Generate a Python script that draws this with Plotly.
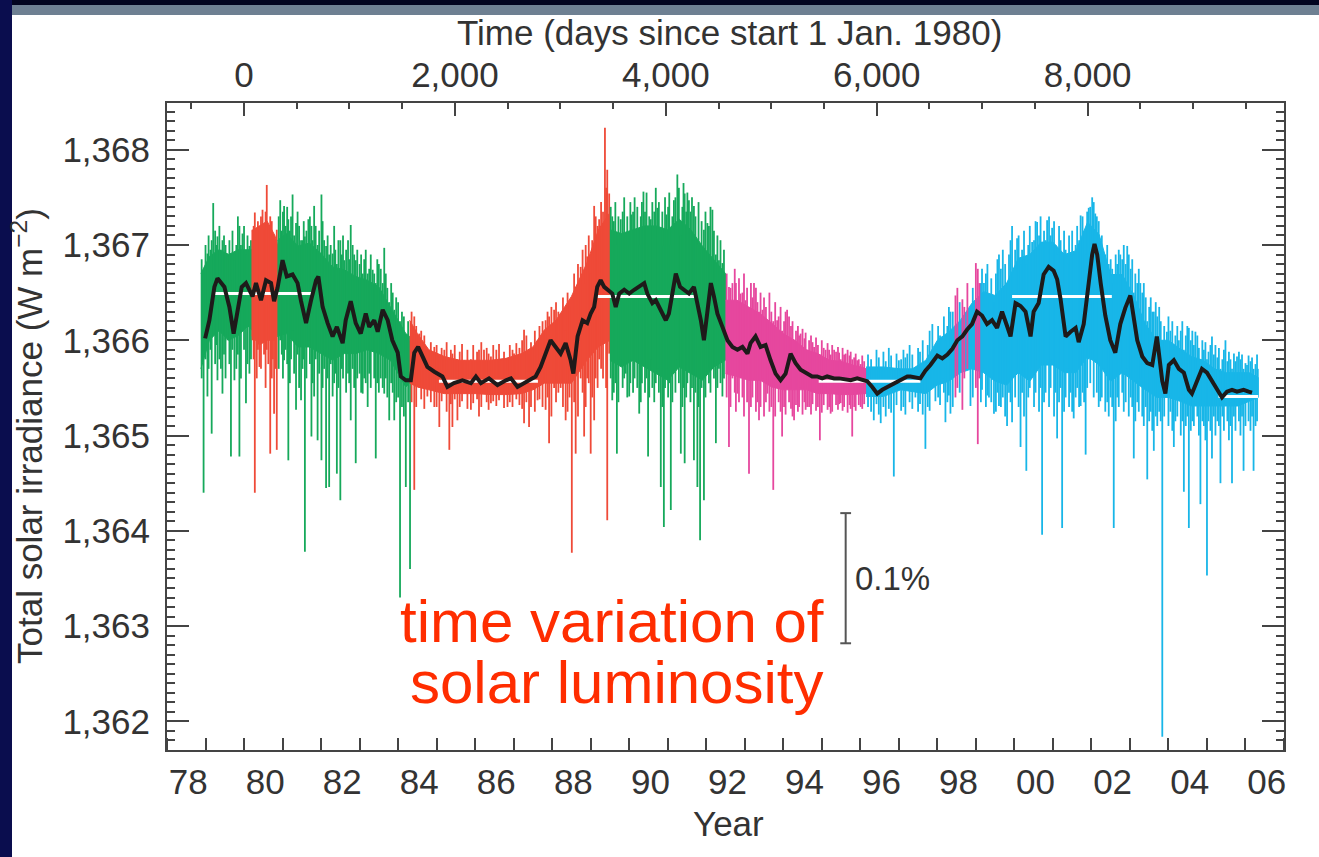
import plotly.graph_objects as go

# ---------------- composite total solar irradiance (W m-2) ----------------
# Each instrument span: dense daily scatter (core band: time, upper, lower),
# the prominent daily excursions (time, top, bottom) and the ordinary
# day-to-day scatter around the band edges (time, top, bottom).

# HF (Nimbus-7), first span
hf1_t = [1978.88, 1979.10, 1979.35, 1979.60, 1979.85, 1980.10, 1980.22]
hf1_hi = [1366.70, 1366.88, 1366.95, 1366.90, 1366.95, 1366.95, 1366.95]
hf1_lo = [1365.70, 1366.00, 1366.10, 1366.00, 1366.05, 1366.15, 1366.10]
hf1_sp_t = [1978.95, 1979.05, 1979.16, 1979.20, 1979.31, 1979.44, 1979.57, 1979.66, 1979.75, 1979.88, 1979.96, 1980.05, 1980.14]
hf1_sp_top = [1366.70, 1366.91, 1367.05, 1367.44, 1367.09, 1367.05, 1366.91, 1366.63, 1366.84, 1367.20, 1367.12, 1366.90, 1366.99]
hf1_sp_bot = [1364.40, 1365.41, 1365.02, 1366.20, 1365.58, 1365.44, 1366.00, 1364.78, 1365.58, 1364.78, 1366.10, 1365.34, 1365.65]
hf1_dv_t = [1978.90, 1979.00, 1979.08, 1979.13, 1979.25, 1979.28, 1979.36, 1979.40, 1979.48, 1979.52,
            1979.62, 1979.70, 1979.80, 1979.84, 1979.92, 1980.00, 1980.09, 1980.18]
hf1_dv_top = [1366.85, 1367.00, 1367.10, 1366.95, 1367.15, 1367.00, 1367.20, 1366.95, 1367.10, 1367.00,
              1367.05, 1367.15, 1367.00, 1367.30, 1367.00, 1367.20, 1367.10, 1367.05]
hf1_dv_bot = [1365.60, 1365.80, 1365.70, 1365.90, 1365.75, 1365.95, 1365.80, 1365.70, 1365.85, 1365.60,
              1365.75, 1365.90, 1365.70, 1365.85, 1365.60, 1365.90, 1365.75, 1365.80]

# ACRIM I, first span
ac1a_t = [1980.20, 1980.40, 1980.60, 1980.80, 1980.87]
ac1a_hi = [1367.15, 1367.20, 1367.25, 1367.10, 1367.00]
ac1a_lo = [1366.05, 1365.95, 1366.00, 1366.00, 1366.05]
ac1a_sp_t = [1980.22, 1980.28, 1980.40, 1980.48, 1980.59, 1980.68, 1980.78, 1980.85]
ac1a_sp_top = [1367.16, 1367.34, 1367.20, 1367.37, 1367.63, 1367.30, 1367.10, 1367.16]
ac1a_sp_bot = [1366.00, 1364.40, 1365.72, 1366.00, 1365.90, 1364.81, 1365.23, 1364.85]
ac1a_dv_t = [1980.25, 1980.33, 1980.36, 1980.44, 1980.52, 1980.56, 1980.63, 1980.72, 1980.75, 1980.82]
ac1a_dv_top = [1367.20, 1367.05, 1367.25, 1367.30, 1367.15, 1367.35, 1367.20, 1367.25, 1367.10, 1367.05]
ac1a_dv_bot = [1365.80, 1365.60, 1365.90, 1365.70, 1365.85, 1365.50, 1365.75, 1365.60, 1365.80, 1365.70]

# HF, second span
hf2_t = [1980.87, 1981.10, 1981.40, 1981.70, 1982.00, 1982.30, 1982.60, 1982.90, 1983.20, 1983.50, 1983.80, 1984.00, 1984.20, 1984.30]
hf2_hi = [1367.05, 1367.12, 1366.99, 1367.02, 1366.91, 1366.77, 1366.74, 1366.67, 1366.63, 1366.56, 1366.35, 1366.21, 1366.07, 1366.04]
hf2_lo = [1366.04, 1366.07, 1365.93, 1365.93, 1365.86, 1365.79, 1365.86, 1365.86, 1365.90, 1365.86, 1365.79, 1365.65, 1365.51, 1365.55]
hf2_sp_t = [1980.94, 1981.04, 1981.15, 1981.26, 1981.35, 1981.48, 1981.58, 1981.67, 1981.75, 1981.82,
            1981.91, 1982.01, 1982.13, 1982.21, 1982.30, 1982.41, 1982.50, 1982.60, 1982.77, 1982.90,
            1983.08, 1983.21, 1983.34, 1983.42, 1983.64, 1983.77, 1983.90, 1984.05, 1984.20, 1984.31]
hf2_sp_top = [1367.47, 1367.41, 1367.27, 1367.53, 1367.23, 1367.05, 1367.09, 1367.27, 1367.20, 1367.41,
              1367.00, 1367.53, 1366.99, 1366.90, 1366.91, 1366.80, 1367.05, 1366.84, 1367.21, 1366.84,
              1366.70, 1366.70, 1366.74, 1366.60, 1366.97, 1366.40, 1366.32, 1366.20, 1366.00, 1366.00]
hf2_sp_bot = [1366.00, 1365.79, 1364.74, 1366.10, 1365.27, 1365.37, 1363.78, 1366.00, 1364.99, 1365.41,
              1364.95, 1364.74, 1364.45, 1364.46, 1365.41, 1364.60, 1364.32, 1365.90, 1365.16, 1364.71,
              1365.44, 1365.30, 1365.90, 1364.76, 1365.44, 1365.16, 1365.16, 1363.30, 1364.46, 1363.60]
hf2_dv_t = [1980.90, 1980.98, 1981.01, 1981.08, 1981.12, 1981.19, 1981.22, 1981.30, 1981.39, 1981.43,
            1981.52, 1981.55, 1981.62, 1981.71, 1981.78, 1981.86, 1981.95, 1982.04, 1982.08, 1982.17,
            1982.25, 1982.34, 1982.37, 1982.45, 1982.54, 1982.57, 1982.65, 1982.70, 1982.73, 1982.82,
            1982.86, 1982.94, 1983.00, 1983.04, 1983.12, 1983.16, 1983.25, 1983.29, 1983.38, 1983.46,
            1983.50, 1983.55, 1983.60, 1983.68, 1983.72, 1983.82, 1983.86, 1983.95, 1984.00, 1984.10,
            1984.15, 1984.26]
hf2_dv_top = [1367.30, 1367.15, 1367.35, 1367.20, 1367.40, 1367.15, 1367.30, 1367.10, 1367.35, 1367.20,
              1367.05, 1367.25, 1367.15, 1367.30, 1367.05, 1367.20, 1367.15, 1367.25, 1367.05, 1367.10,
              1367.00, 1367.20, 1366.95, 1367.05, 1366.90, 1367.10, 1366.95, 1367.05, 1366.85, 1367.00,
              1366.90, 1366.95, 1366.80, 1366.90, 1366.85, 1366.95, 1366.75, 1366.90, 1366.70, 1366.85,
              1366.80, 1366.75, 1366.60, 1366.70, 1366.55, 1366.60, 1366.50, 1366.45, 1366.40, 1366.30,
              1366.25, 1366.20]
hf2_dv_bot = [1365.70, 1365.85, 1365.60, 1365.90, 1365.75, 1365.55, 1365.80, 1365.65, 1365.85, 1365.50,
              1365.70, 1365.80, 1365.60, 1365.75, 1365.55, 1365.80, 1365.65, 1365.50, 1365.70, 1365.60,
              1365.75, 1365.55, 1365.65, 1365.50, 1365.70, 1365.60, 1365.45, 1365.65, 1365.55, 1365.70,
              1365.50, 1365.60, 1365.65, 1365.45, 1365.60, 1365.55, 1365.65, 1365.50, 1365.60, 1365.55,
              1365.45, 1365.60, 1365.50, 1365.60, 1365.40, 1365.55, 1365.45, 1365.35, 1365.40, 1365.30,
              1365.20, 1365.35]

# ACRIM I, second span
ac1b_t = [1984.30, 1984.50, 1984.80, 1985.20, 1985.60, 1986.00, 1986.40, 1986.80,
          1987.20, 1987.50, 1987.80, 1988.10, 1988.50, 1988.90, 1989.20, 1989.50]
ac1b_hi = [1366.21, 1366.07, 1365.90, 1365.83, 1365.79, 1365.79, 1365.79, 1365.81,
           1365.86, 1365.93, 1366.11, 1366.21, 1366.46, 1366.81, 1367.16, 1367.34]
ac1b_lo = [1365.55, 1365.51, 1365.48, 1365.44, 1365.44, 1365.44, 1365.43, 1365.43,
           1365.44, 1365.48, 1365.55, 1365.55, 1365.55, 1365.79, 1365.93, 1366.00]
ac1b_sp_t = [1984.42, 1984.55, 1984.76, 1984.94, 1985.07, 1985.20, 1985.33, 1985.41, 1985.54, 1985.72,
             1985.89, 1986.10, 1986.23, 1986.41, 1986.67, 1986.84, 1987.01, 1987.27, 1987.40, 1987.62,
             1987.83, 1987.92, 1988.05, 1988.22, 1988.35, 1988.51, 1988.61, 1988.74, 1988.83, 1988.91,
             1989.00, 1989.09, 1989.22, 1989.37, 1989.43, 1989.48]
ac1b_sp_top = [1366.25, 1366.07, 1365.90, 1365.93, 1365.85, 1365.90, 1365.80, 1365.86, 1365.80, 1365.79,
               1365.80, 1365.90, 1365.90, 1365.83, 1365.79, 1365.80, 1365.86, 1366.11, 1365.85, 1366.00,
               1366.21, 1366.25, 1366.32, 1366.28, 1366.10, 1366.20, 1366.56, 1366.77, 1366.60, 1366.88,
               1366.70, 1367.41, 1367.27, 1368.23, 1367.79, 1367.54]
ac1b_sp_bot = [1364.43, 1365.50, 1365.41, 1365.30, 1365.09, 1365.45, 1364.85, 1365.09, 1365.16, 1365.45,
               1365.27, 1365.20, 1365.45, 1365.34, 1365.45, 1365.30, 1365.45, 1365.13, 1365.09, 1365.37,
               1365.27, 1364.92, 1365.50, 1365.50, 1365.16, 1363.77, 1364.81, 1365.60, 1364.99, 1365.60,
               1364.81, 1365.16, 1365.80, 1366.00, 1364.11, 1365.86]
ac1b_dv_t = [1984.35, 1984.47, 1984.60, 1984.68, 1984.85, 1985.00, 1985.13, 1985.26, 1985.37, 1985.47,
             1985.60, 1985.66, 1985.80, 1985.95, 1986.05, 1986.16, 1986.30, 1986.35, 1986.47, 1986.55,
             1986.62, 1986.75, 1986.90, 1986.97, 1987.07, 1987.15, 1987.22, 1987.33, 1987.45, 1987.55,
             1987.67, 1987.75, 1987.88, 1987.98, 1988.10, 1988.16, 1988.28, 1988.40, 1988.45, 1988.57,
             1988.67, 1988.79, 1988.87, 1988.95, 1989.04, 1989.13, 1989.18, 1989.27, 1989.32, 1989.40]
ac1b_dv_top = [1366.30, 1366.15, 1366.10, 1366.05, 1365.98, 1365.95, 1365.92, 1365.98, 1365.90, 1365.95,
               1365.88, 1365.96, 1365.90, 1365.95, 1365.88, 1365.98, 1365.92, 1365.86, 1365.95, 1365.90,
               1365.96, 1365.88, 1365.95, 1365.90, 1365.97, 1365.92, 1366.00, 1366.05, 1365.98, 1366.10,
               1366.15, 1366.20, 1366.30, 1366.35, 1366.40, 1366.30, 1366.45, 1366.50, 1366.35, 1366.70,
               1366.80, 1366.95, 1367.00, 1367.10, 1367.05, 1367.30, 1367.20, 1367.45, 1367.35, 1367.60]
ac1b_dv_bot = [1365.35, 1365.30, 1365.38, 1365.28, 1365.35, 1365.30, 1365.36, 1365.25, 1365.33, 1365.38,
               1365.30, 1365.36, 1365.28, 1365.34, 1365.38, 1365.30, 1365.35, 1365.27, 1365.36, 1365.31,
               1365.37, 1365.29, 1365.35, 1365.30, 1365.38, 1365.32, 1365.28, 1365.35, 1365.30, 1365.25,
               1365.38, 1365.30, 1365.40, 1365.20, 1365.35, 1365.45, 1365.30, 1365.25, 1365.40, 1365.35,
               1365.20, 1365.45, 1365.30, 1365.55, 1365.40, 1365.60, 1365.50, 1365.70, 1365.60, 1365.50]

# HF, third span
hf3_t = [1989.50, 1989.80, 1990.10, 1990.40, 1990.70, 1991.00, 1991.30, 1991.60, 1991.90, 1992.20, 1992.50]
hf3_hi = [1367.16, 1367.12, 1367.16, 1367.20, 1367.20, 1367.16, 1367.27, 1367.16, 1366.99, 1366.84, 1366.70]
hf3_lo = [1365.79, 1365.72, 1365.79, 1365.72, 1365.65, 1365.58, 1365.72, 1365.65, 1365.58, 1365.72, 1365.79]
hf3_sp_t = [1989.56, 1989.68, 1989.78, 1989.91, 1990.00, 1990.06, 1990.17, 1990.26, 1990.37, 1990.49,
            1990.56, 1990.73, 1990.82, 1990.90, 1990.97, 1991.08, 1991.16, 1991.25, 1991.34, 1991.44,
            1991.55, 1991.68, 1991.77, 1991.84, 1991.94, 1992.03, 1992.16, 1992.25, 1992.33, 1992.42]
hf3_sp_top = [1367.30, 1367.00, 1367.27, 1367.12, 1367.00, 1367.32, 1367.16, 1367.00, 1367.56, 1367.00,
              1367.27, 1367.39, 1367.00, 1366.99, 1367.32, 1367.00, 1367.47, 1367.74, 1367.10, 1367.54,
              1367.47, 1367.41, 1367.00, 1367.00, 1367.16, 1367.23, 1367.37, 1366.90, 1366.84, 1366.81]
hf3_sp_bot = [1365.37, 1364.81, 1365.80, 1365.65, 1365.41, 1365.80, 1365.80, 1365.23, 1365.80, 1364.78,
              1365.80, 1365.70, 1364.46, 1364.04, 1365.70, 1364.22, 1365.70, 1365.80, 1364.81, 1364.71,
              1365.70, 1364.74, 1364.46, 1363.90, 1364.32, 1365.70, 1365.70, 1364.92, 1365.70, 1365.41]
hf3_dv_t = [1989.52, 1989.60, 1989.64, 1989.72, 1989.83, 1989.87, 1989.95, 1990.03, 1990.10, 1990.14,
            1990.21, 1990.30, 1990.33, 1990.41, 1990.45, 1990.52, 1990.60, 1990.65, 1990.69, 1990.77,
            1990.86, 1990.93, 1991.01, 1991.04, 1991.12, 1991.20, 1991.29, 1991.38, 1991.41, 1991.48,
            1991.51, 1991.59, 1991.63, 1991.72, 1991.80, 1991.88, 1991.98, 1992.07, 1992.11, 1992.20,
            1992.29, 1992.37, 1992.46]
hf3_dv_top = [1367.40, 1367.25, 1367.45, 1367.30, 1367.35, 1367.50, 1367.30, 1367.45, 1367.35, 1367.50,
              1367.40, 1367.30, 1367.45, 1367.35, 1367.55, 1367.30, 1367.45, 1367.35, 1367.60, 1367.45,
              1367.35, 1367.50, 1367.40, 1367.55, 1367.30, 1367.50, 1367.60, 1367.40, 1367.65, 1367.35,
              1367.55, 1367.35, 1367.50, 1367.30, 1367.45, 1367.25, 1367.35, 1367.20, 1367.40, 1367.15,
              1367.10, 1367.05, 1366.95]
hf3_dv_bot = [1365.60, 1365.45, 1365.55, 1365.35, 1365.50, 1365.60, 1365.40, 1365.55, 1365.45, 1365.60,
              1365.50, 1365.35, 1365.55, 1365.45, 1365.60, 1365.40, 1365.50, 1365.35, 1365.55, 1365.45,
              1365.30, 1365.50, 1365.40, 1365.55, 1365.35, 1365.45, 1365.55, 1365.30, 1365.50, 1365.40,
              1365.55, 1365.35, 1365.50, 1365.45, 1365.30, 1365.50, 1365.40, 1365.55, 1365.45, 1365.60,
              1365.50, 1365.55, 1365.60]

# ACRIM II, first span
ac2a_t = [1992.50, 1992.80, 1993.10, 1993.40, 1993.70, 1994.00, 1994.30,
          1994.60, 1994.90, 1995.20, 1995.50, 1995.80, 1996.10, 1996.20]
ac2a_hi = [1366.42, 1366.42, 1366.35, 1366.28, 1366.18, 1366.07, 1366.00,
           1365.90, 1365.86, 1365.79, 1365.78, 1365.74, 1365.71, 1365.69]
ac2a_lo = [1365.65, 1365.62, 1365.58, 1365.58, 1365.51, 1365.48, 1365.48,
           1365.48, 1365.44, 1365.44, 1365.43, 1365.43, 1365.44, 1365.44]
ac2a_sp_t = [1992.59, 1992.68, 1992.81, 1992.89, 1993.02, 1993.11, 1993.24, 1993.37, 1993.46, 1993.59,
             1993.74, 1993.84, 1993.97, 1994.10, 1994.28, 1994.45, 1994.62, 1994.80, 1994.95, 1995.10,
             1995.23, 1995.32, 1995.49, 1995.62, 1995.79, 1995.92, 1996.01]
ac2a_sp_top = [1366.56, 1366.60, 1366.40, 1366.49, 1366.42, 1366.30, 1366.60, 1366.30, 1366.32, 1366.20,
               1366.20, 1366.21, 1366.10, 1366.32, 1366.00, 1366.07, 1365.90, 1365.93, 1365.85, 1365.90,
               1365.85, 1365.90, 1365.80, 1365.86, 1365.80, 1365.79, 1365.75]
ac2a_sp_bot = [1364.88, 1365.60, 1365.44, 1365.60, 1365.60, 1364.60, 1365.60, 1365.16, 1365.60, 1365.44,
               1364.43, 1365.50, 1364.99, 1365.50, 1365.16, 1365.50, 1365.30, 1365.50, 1364.95, 1365.50,
               1365.23, 1365.50, 1365.34, 1365.50, 1364.99, 1365.50, 1365.30]
ac2a_dv_t = [1992.53, 1992.63, 1992.74, 1992.77, 1992.85, 1992.94, 1992.98, 1993.06, 1993.16, 1993.20,
             1993.29, 1993.33, 1993.41, 1993.50, 1993.55, 1993.64, 1993.69, 1993.79, 1993.88, 1993.93,
             1994.02, 1994.06, 1994.15, 1994.20, 1994.24, 1994.33, 1994.38, 1994.41, 1994.50, 1994.55,
             1994.58, 1994.67, 1994.72, 1994.76, 1994.85, 1994.90, 1995.00, 1995.05, 1995.15, 1995.19,
             1995.27, 1995.37, 1995.42, 1995.45, 1995.54, 1995.58, 1995.67, 1995.72, 1995.75, 1995.84,
             1995.88, 1995.96, 1996.05, 1996.10]
ac2a_dv_top = [1366.70, 1366.55, 1366.75, 1366.60, 1366.65, 1366.50, 1366.70, 1366.55, 1366.60, 1366.45,
               1366.55, 1366.40, 1366.50, 1366.45, 1366.35, 1366.50, 1366.30, 1366.40, 1366.25, 1366.35,
               1366.20, 1366.30, 1366.25, 1366.15, 1366.20, 1366.10, 1366.15, 1366.05, 1366.12, 1366.02,
               1366.08, 1366.00, 1366.05, 1365.98, 1366.03, 1365.95, 1366.00, 1365.92, 1365.97, 1365.90,
               1365.95, 1365.88, 1365.93, 1365.87, 1365.92, 1365.85, 1365.90, 1365.84, 1365.88, 1365.82,
               1365.86, 1365.80, 1365.84, 1365.78]
ac2a_dv_bot = [1365.40, 1365.30, 1365.45, 1365.25, 1365.35, 1365.40, 1365.20, 1365.35, 1365.30, 1365.40,
               1365.25, 1365.35, 1365.30, 1365.20, 1365.35, 1365.25, 1365.30, 1365.20, 1365.35, 1365.25,
               1365.30, 1365.22, 1365.35, 1365.28, 1365.20, 1365.32, 1365.25, 1365.30, 1365.22, 1365.35,
               1365.27, 1365.30, 1365.22, 1365.33, 1365.26, 1365.30, 1365.24, 1365.32, 1365.27, 1365.30,
               1365.25, 1365.32, 1365.27, 1365.33, 1365.26, 1365.30, 1365.24, 1365.32, 1365.28, 1365.30,
               1365.26, 1365.32, 1365.28, 1365.33]

# VIRGO
vir_t = [1996.15, 1996.60, 1997.05, 1997.35, 1997.70, 1998.00, 1998.30, 1998.60, 1998.90, 1999.20,
         1999.50, 1999.80, 2000.10, 2000.40, 2000.70, 2001.00, 2001.30, 2001.60, 2001.90, 2002.20,
         2002.50, 2002.80, 2003.10, 2003.40, 2003.70, 2004.00, 2004.30, 2004.60, 2004.90, 2005.20,
         2005.50, 2005.80, 2006.10, 2006.33]
vir_hi = [1365.72, 1365.72, 1365.70, 1365.70, 1365.79, 1366.00, 1366.09, 1366.21, 1366.39, 1366.51,
          1366.47, 1366.60, 1366.86, 1366.90, 1367.03, 1367.03, 1366.90, 1366.94, 1367.24, 1367.11,
          1366.69, 1366.69, 1366.47, 1366.17, 1366.00, 1366.00, 1365.91, 1365.83, 1365.79, 1365.70,
          1365.66, 1365.66, 1365.66, 1365.61]
vir_lo = [1365.41, 1365.41, 1365.48, 1365.46, 1365.44, 1365.53, 1365.57, 1365.66, 1365.70, 1365.66,
          1365.57, 1365.53, 1365.66, 1365.57, 1365.74, 1365.74, 1365.66, 1365.66, 1365.83, 1365.74,
          1365.57, 1365.66, 1365.57, 1365.48, 1365.40, 1365.40, 1365.36, 1365.31, 1365.31, 1365.31,
          1365.31, 1365.31, 1365.36, 1365.40]
vir_sp_t = [1996.35, 1996.53, 1996.87, 1997.00, 1997.22, 1997.43, 1997.69, 1997.87, 1997.95, 1998.13,
            1998.21, 1998.34, 1998.86, 1999.21, 1999.34, 1999.47, 1999.60, 1999.81, 1999.94, 2000.07,
            2000.16, 2000.31, 2000.46, 2000.59, 2000.72, 2000.85, 2000.98, 2001.11, 2001.24, 2001.37,
            2001.54, 2001.72, 2001.85, 2001.93, 2002.02, 2002.10, 2002.23, 2002.32, 2002.58, 2002.75,
            2002.93, 2003.10, 2003.27, 2003.45, 2003.62, 2003.84, 2003.96, 2004.14, 2004.27, 2004.40,
            2004.53, 2004.70, 2004.83, 2005.00, 2005.13, 2005.35, 2005.48, 2005.65, 2005.78, 2005.95,
            2006.04, 2006.21, 2006.32]
vir_sp_top = [1365.72, 1365.72, 1365.70, 1365.79, 1365.86, 1365.70, 1365.70, 1366.17, 1365.90, 1366.04,
              1366.00, 1366.30, 1366.30, 1366.60, 1366.30, 1366.40, 1366.90, 1366.60, 1367.20, 1367.07,
              1366.80, 1366.80, 1367.03, 1367.24, 1367.00, 1367.26, 1367.18, 1366.90, 1366.90, 1366.81,
              1366.90, 1367.31, 1366.90, 1367.39, 1367.50, 1367.33, 1366.90, 1366.60, 1366.60, 1366.90,
              1366.99, 1366.50, 1366.60, 1366.20, 1366.30, 1366.00, 1366.09, 1365.90, 1366.00, 1365.90,
              1366.13, 1366.09, 1365.80, 1365.80, 1366.04, 1365.70, 1366.00, 1365.70, 1365.83, 1365.70,
              1365.74, 1365.70, 1365.70]
vir_sp_bot = [1365.16, 1365.13, 1364.57, 1365.50, 1365.50, 1365.40, 1364.86, 1365.50, 1365.36, 1365.60,
              1365.14, 1365.23, 1365.31, 1365.70, 1365.40, 1365.23, 1365.31, 1365.10, 1365.14, 1365.70,
              1364.88, 1364.63, 1365.70, 1365.80, 1363.96, 1365.80, 1365.80, 1364.97, 1364.03, 1365.70,
              1365.18, 1365.31, 1364.80, 1365.80, 1365.80, 1365.80, 1365.36, 1365.70, 1364.03, 1365.70,
              1365.70, 1364.76, 1365.60, 1364.54, 1364.84, 1361.84, 1365.50, 1364.88, 1365.40, 1364.41,
              1364.03, 1365.40, 1364.28, 1363.53, 1364.76, 1364.50, 1365.40, 1364.50, 1365.40, 1364.63,
              1365.40, 1364.63, 1365.40]
vir_dv_t = [1996.20, 1996.28, 1996.42, 1996.48, 1996.60, 1996.66, 1996.74, 1996.80, 1996.94, 1997.06,
            1997.12, 1997.17, 1997.28, 1997.35, 1997.50, 1997.55, 1997.62, 1997.75, 1997.80, 1998.02,
            1998.07, 1998.17, 1998.26, 1998.30, 1998.40, 1998.58, 1998.92, 1999.13, 1999.16, 1999.26,
            1999.30, 1999.40, 1999.52, 1999.56, 1999.65, 1999.70, 1999.76, 1999.86, 1999.90, 2000.02,
            2000.11, 2000.20, 2000.25, 2000.36, 2000.40, 2000.51, 2000.55, 2000.64, 2000.68, 2000.77,
            2000.81, 2000.90, 2000.94, 2001.03, 2001.07, 2001.16, 2001.20, 2001.29, 2001.33, 2001.42,
            2001.46, 2001.50, 2001.59, 2001.63, 2001.68, 2001.77, 2001.81, 2001.89, 2001.97, 2002.06,
            2002.14, 2002.19, 2002.27, 2002.36, 2002.41, 2002.45, 2002.50, 2002.54, 2002.63, 2002.67,
            2002.71, 2002.80, 2002.84, 2002.89, 2002.97, 2003.02, 2003.06, 2003.14, 2003.19, 2003.23,
            2003.32, 2003.36, 2003.41, 2003.50, 2003.54, 2003.58, 2003.67, 2003.71, 2003.76, 2003.80,
            2003.89, 2004.00, 2004.05, 2004.10, 2004.18, 2004.23, 2004.32, 2004.36, 2004.45, 2004.49,
            2004.58, 2004.62, 2004.66, 2004.75, 2004.79, 2004.88, 2004.92, 2004.96, 2005.04, 2005.09,
            2005.18, 2005.22, 2005.27, 2005.31, 2005.40, 2005.44, 2005.53, 2005.57, 2005.61, 2005.70,
            2005.74, 2005.83, 2005.87, 2005.91, 2006.00, 2006.08, 2006.13, 2006.17, 2006.26, 2006.30]
vir_dv_top = [1365.85, 1365.80, 1365.90, 1365.82, 1365.88, 1365.78, 1365.92, 1365.84, 1365.86, 1365.80,
              1365.90, 1365.82, 1365.95, 1365.85, 1365.92, 1365.88, 1366.00, 1365.95, 1366.10, 1366.15,
              1366.05, 1366.25, 1366.15, 1366.35, 1366.30, 1366.40, 1366.55, 1366.60, 1366.75, 1366.70,
              1366.80, 1366.65, 1366.70, 1366.85, 1366.75, 1366.95, 1366.80, 1366.90, 1367.05, 1366.95,
              1367.10, 1366.95, 1367.15, 1367.00, 1367.20, 1367.05, 1367.25, 1367.10, 1367.30, 1367.15,
              1367.05, 1367.30, 1367.10, 1367.25, 1367.00, 1367.20, 1367.05, 1367.15, 1366.95, 1367.10,
              1366.90, 1367.15, 1367.00, 1367.20, 1367.05, 1367.30, 1367.15, 1367.35, 1367.40, 1367.45,
              1367.30, 1367.25, 1367.10, 1366.90, 1367.00, 1366.80, 1366.85, 1366.75, 1366.90, 1366.80,
              1366.95, 1366.85, 1367.00, 1366.80, 1366.90, 1366.75, 1366.85, 1366.70, 1366.60, 1366.75,
              1366.50, 1366.60, 1366.45, 1366.35, 1366.45, 1366.30, 1366.40, 1366.25, 1366.35, 1366.20,
              1366.15, 1366.25, 1366.10, 1366.20, 1366.05, 1366.15, 1366.10, 1366.20, 1366.05, 1366.15,
              1366.00, 1366.10, 1365.95, 1366.05, 1365.92, 1366.00, 1365.90, 1365.98, 1365.88, 1365.95,
              1365.85, 1365.95, 1365.82, 1365.92, 1365.80, 1365.90, 1365.78, 1365.88, 1365.80, 1365.86,
              1365.78, 1365.88, 1365.80, 1365.85, 1365.76, 1365.84, 1365.78, 1365.82, 1365.75, 1365.85]
vir_dv_bot = [1365.30, 1365.25, 1365.33, 1365.22, 1365.30, 1365.20, 1365.28, 1365.24, 1365.32, 1365.26,
              1365.30, 1365.22, 1365.35, 1365.28, 1365.25, 1365.33, 1365.22, 1365.30, 1365.26, 1365.40,
              1365.32, 1365.45, 1365.35, 1365.42, 1365.30, 1365.45, 1365.40, 1365.35, 1365.48, 1365.30,
              1365.42, 1365.35, 1365.25, 1365.45, 1365.30, 1365.40, 1365.20, 1365.45, 1365.35, 1365.40,
              1365.30, 1365.45, 1365.20, 1365.40, 1365.50, 1365.30, 1365.45, 1365.25, 1365.50, 1365.35,
              1365.45, 1365.30, 1365.50, 1365.20, 1365.45, 1365.35, 1365.50, 1365.25, 1365.40, 1365.30,
              1365.45, 1365.25, 1365.40, 1365.50, 1365.30, 1365.45, 1365.35, 1365.50, 1365.55, 1365.40,
              1365.45, 1365.30, 1365.40, 1365.25, 1365.35, 1365.20, 1365.40, 1365.30, 1365.15, 1365.40,
              1365.30, 1365.45, 1365.25, 1365.35, 1365.20, 1365.40, 1365.30, 1365.15, 1365.35, 1365.25,
              1365.20, 1365.10, 1365.30, 1365.15, 1365.25, 1365.05, 1365.20, 1365.10, 1365.25, 1365.15,
              1365.20, 1365.10, 1365.25, 1365.05, 1365.15, 1365.20, 1365.00, 1365.15, 1365.10, 1365.20,
              1365.05, 1365.15, 1365.10, 1365.20, 1365.00, 1365.15, 1365.10, 1364.95, 1365.15, 1365.05,
              1365.20, 1365.00, 1365.15, 1365.10, 1365.20, 1365.05, 1365.15, 1364.95, 1365.10, 1365.20,
              1365.05, 1365.15, 1365.00, 1365.20, 1365.10, 1365.15, 1365.05, 1365.20, 1365.10, 1365.15]

# ACRIM II, second span (days used inside the VIRGO period)
ac2b_sp_t = [1998.47, 1998.52, 1998.65, 1998.70, 1998.78, 1999.00, 1999.05, 1999.09]
ac2b_sp_top = [1366.47, 1366.55, 1366.43, 1366.35, 1366.60, 1366.81, 1366.75, 1366.60]
ac2b_sp_bot = [1365.40, 1365.50, 1365.27, 1365.60, 1365.70, 1365.50, 1364.91, 1365.60]

# 81-day running mean
mean_t = [1978.99, 1979.10, 1979.23, 1979.31, 1979.49, 1979.62, 1979.73, 1979.83, 1979.94, 1980.05,
          1980.22, 1980.31, 1980.44, 1980.57, 1980.70, 1980.78, 1980.87, 1981.00, 1981.11, 1981.26,
          1981.39, 1981.48, 1981.61, 1981.74, 1981.87, 1981.93, 1982.04, 1982.17, 1982.30, 1982.41,
          1982.56, 1982.64, 1982.77, 1982.90, 1983.03, 1983.16, 1983.25, 1983.38, 1983.47, 1983.60,
          1983.73, 1983.85, 1983.99, 1984.07, 1984.20, 1984.33, 1984.42, 1984.52, 1984.63, 1984.76,
          1984.94, 1985.15, 1985.28, 1985.45, 1985.67, 1985.89, 1986.02, 1986.15, 1986.36, 1986.58,
          1986.80, 1986.93, 1987.10, 1987.27, 1987.44, 1987.57, 1987.70, 1987.83, 1987.96, 1988.09,
          1988.22, 1988.35, 1988.48, 1988.55, 1988.66, 1988.79, 1988.91, 1989.00, 1989.09, 1989.17,
          1989.26, 1989.35, 1989.43, 1989.56, 1989.65, 1989.74, 1989.87, 1990.00, 1990.13, 1990.26,
          1990.39, 1990.47, 1990.60, 1990.69, 1990.82, 1990.95, 1991.03, 1991.12, 1991.21, 1991.32,
          1991.42, 1991.55, 1991.68, 1991.77, 1991.86, 1991.94, 1992.03, 1992.12, 1992.20, 1992.29,
          1992.42, 1992.55, 1992.68, 1992.81, 1992.94, 1993.07, 1993.15, 1993.28, 1993.41, 1993.54,
          1993.67, 1993.80, 1993.93, 1994.06, 1994.19, 1994.32, 1994.45, 1994.62, 1994.75, 1994.88,
          1995.01, 1995.14, 1995.32, 1995.45, 1995.58, 1995.75, 1995.92, 1996.05, 1996.18, 1996.31,
          1996.44, 1996.57, 1996.70, 1996.87, 1997.04, 1997.22, 1997.30, 1997.56, 1997.69, 1997.82,
          1998.00, 1998.13, 1998.26, 1998.39, 1998.52, 1998.65, 1998.77, 1998.90, 1999.03, 1999.16,
          1999.29, 1999.42, 1999.55, 1999.68, 1999.81, 1999.90, 2000.03, 2000.16, 2000.29, 2000.42,
          2000.50, 2000.63, 2000.76, 2000.89, 2001.02, 2001.11, 2001.20, 2001.33, 2001.46, 2001.59,
          2001.67, 2001.80, 2001.93, 2002.02, 2002.08, 2002.15, 2002.24, 2002.36, 2002.49, 2002.62,
          2002.75, 2002.88, 2003.01, 2003.10, 2003.19, 2003.32, 2003.45, 2003.58, 2003.70, 2003.84,
          2003.92, 2004.01, 2004.14, 2004.27, 2004.40, 2004.53, 2004.61, 2004.74, 2004.87, 2005.00,
          2005.13, 2005.26, 2005.39, 2005.52, 2005.65, 2005.78, 2005.95, 2006.08, 2006.17]
mean_v = [1366.02, 1366.21, 1366.56, 1366.65, 1366.56, 1366.35, 1366.07, 1366.32, 1366.56, 1366.60,
          1366.46, 1366.60, 1366.42, 1366.63, 1366.60, 1366.41, 1366.55, 1366.84, 1366.67, 1366.69,
          1366.60, 1366.41, 1366.18, 1366.42, 1366.63, 1366.67, 1366.35, 1366.18, 1366.04, 1366.14,
          1365.97, 1366.21, 1366.41, 1366.18, 1366.07, 1366.28, 1366.14, 1366.21, 1366.09, 1366.32,
          1366.21, 1366.00, 1365.87, 1365.62, 1365.58, 1365.58, 1365.87, 1365.93, 1365.83, 1365.72,
          1365.67, 1365.62, 1365.51, 1365.55, 1365.58, 1365.55, 1365.62, 1365.55, 1365.60, 1365.53,
          1365.58, 1365.60, 1365.51, 1365.55, 1365.58, 1365.62, 1365.72, 1365.87, 1366.00, 1365.93,
          1365.86, 1365.97, 1365.79, 1365.65, 1366.04, 1366.21, 1366.18, 1366.28, 1366.35, 1366.56,
          1366.63, 1366.56, 1366.53, 1366.49, 1366.35, 1366.49, 1366.53, 1366.49, 1366.53, 1366.56,
          1366.60, 1366.49, 1366.39, 1366.42, 1366.32, 1366.21, 1366.28, 1366.49, 1366.70, 1366.56,
          1366.53, 1366.49, 1366.56, 1366.39, 1366.21, 1366.00, 1366.28, 1366.60, 1366.46, 1366.28,
          1366.14, 1366.00, 1365.93, 1365.90, 1365.93, 1365.86, 1365.97, 1366.04, 1365.93, 1365.95,
          1365.79, 1365.65, 1365.58, 1365.65, 1365.86, 1365.76, 1365.69, 1365.65, 1365.62, 1365.62,
          1365.60, 1365.62, 1365.60, 1365.60, 1365.59, 1365.58, 1365.60, 1365.59, 1365.57, 1365.51,
          1365.44, 1365.48, 1365.51, 1365.55, 1365.58, 1365.62, 1365.62, 1365.60, 1365.68, 1365.74,
          1365.84, 1365.81, 1365.85, 1365.91, 1366.00, 1366.04, 1366.11, 1366.17, 1366.30, 1366.26,
          1366.17, 1366.21, 1366.13, 1366.30, 1366.15, 1366.04, 1366.39, 1366.36, 1366.30, 1366.04,
          1366.30, 1366.39, 1366.69, 1366.77, 1366.73, 1366.64, 1366.43, 1366.04, 1366.09, 1366.13,
          1365.98, 1366.17, 1366.60, 1366.90, 1367.01, 1366.90, 1366.60, 1366.26, 1366.00, 1365.87,
          1366.17, 1366.34, 1366.47, 1366.26, 1366.00, 1365.83, 1365.76, 1365.74, 1366.04, 1365.57,
          1365.44, 1365.74, 1365.79, 1365.70, 1365.66, 1365.48, 1365.44, 1365.57, 1365.70, 1365.66,
          1365.57, 1365.48, 1365.40, 1365.46, 1365.48, 1365.46, 1365.48, 1365.46, 1365.45]

# cycle maximum / minimum levels
level_start = [1979.19, 1985.06, 1989.18, 1994.92, 1999.94, 2005.30]
level_end = [1981.78, 1987.63, 1991.72, 1997.56, 2002.53, 2006.33]
level_value = [1366.49, 1365.57, 1366.46, 1365.57, 1366.46, 1365.41]

# axis labels
year_ticks = [1978, 1980, 1982, 1984, 1986, 1988, 1990, 1992, 1994, 1996, 1998, 2000, 2002, 2004, 2006]
year_labels = ["78", "80", "82", "84", "86", "88", "90", "92", "94", "96", "98", "00", "02", "04", "06"]
day_ticks = [0, 2000, 4000, 6000, 8000]
day_labels = ["0", "2,000", "4,000", "6,000", "8,000"]
tsi_ticks = [1362, 1363, 1364, 1365, 1366, 1367, 1368]
tsi_labels = ["1,362", "1,363", "1,364", "1,365", "1,366", "1,367", "1,368"]

# 0.1 % scale bar
bar_year = 1995.62
bar_base = 1362.82
bar_fraction = 0.001
tsi_reference = 1366.0

GREEN = "#16a95b"
RED = "#ef4a38"
PINK = "#e6479e"
CYAN = "#18b6e8"
INK = "#333333"
AXIS = "#444444"

YEAR0, YEAR1 = 1978.0, 2007.0
TSI0, TSI1 = 1361.70, 1368.49

spans = [
    (hf1_t, hf1_hi, hf1_lo, [(hf1_dv_t, hf1_dv_top, hf1_dv_bot), (hf1_sp_t, hf1_sp_top, hf1_sp_bot)], GREEN),
    (ac1a_t, ac1a_hi, ac1a_lo, [(ac1a_dv_t, ac1a_dv_top, ac1a_dv_bot), (ac1a_sp_t, ac1a_sp_top, ac1a_sp_bot)], RED),
    (hf2_t, hf2_hi, hf2_lo, [(hf2_dv_t, hf2_dv_top, hf2_dv_bot), (hf2_sp_t, hf2_sp_top, hf2_sp_bot)], GREEN),
    (ac1b_t, ac1b_hi, ac1b_lo, [(ac1b_dv_t, ac1b_dv_top, ac1b_dv_bot), (ac1b_sp_t, ac1b_sp_top, ac1b_sp_bot)], RED),
    (hf3_t, hf3_hi, hf3_lo, [(hf3_dv_t, hf3_dv_top, hf3_dv_bot), (hf3_sp_t, hf3_sp_top, hf3_sp_bot)], GREEN),
    (ac2a_t, ac2a_hi, ac2a_lo, [(ac2a_dv_t, ac2a_dv_top, ac2a_dv_bot), (ac2a_sp_t, ac2a_sp_top, ac2a_sp_bot)], PINK),
    (vir_t, vir_hi, vir_lo, [(vir_dv_t, vir_dv_top, vir_dv_bot), (vir_sp_t, vir_sp_top, vir_sp_bot)], CYAN),
    (None, None, None, [(ac2b_sp_t, ac2b_sp_top, ac2b_sp_bot)], PINK),
]

fig = go.Figure()

for t, hi, lo, sticks, col in spans:
    if t is not None:
        assert len(t) == len(hi) == len(lo)
        fig.add_trace(go.Scatter(
            x=list(t) + list(t)[::-1], y=list(hi) + list(lo)[::-1],
            fill="toself", fillcolor=col, mode="lines",
            line=dict(color=col, width=1), hoverinfo="skip", showlegend=False))
    for st, stop, sbot in sticks:
        assert len(st) == len(stop) == len(sbot)
        xs, ys = [], []
        for a, b, c in zip(st, stop, sbot):
            xs += [a, a, None]
            ys += [b, c, None]
        fig.add_trace(go.Scatter(x=xs, y=ys, mode="lines", line=dict(color=col, width=1.8),
                                 hoverinfo="skip", showlegend=False))

# cycle levels
lx, ly = [], []
for a, b, v in zip(level_start, level_end, level_value):
    lx += [a, b, None]
    ly += [v, v, None]
fig.add_trace(go.Scatter(x=lx, y=ly, mode="lines", line=dict(color="white", width=3),
                         hoverinfo="skip", showlegend=False))

# running mean
assert len(mean_t) == len(mean_v)
fig.add_trace(go.Scatter(x=mean_t, y=mean_v, mode="lines",
                         line=dict(color="#1e1a1a", width=4), showlegend=False))

# days-since-1980 axis carries the same time span
DAY = 365.25
fig.add_trace(go.Scatter(x=[(YEAR0 - 1980) * DAY, (YEAR1 - 1980) * DAY], y=[None, None],
                         xaxis="x2", mode="markers", showlegend=False, hoverinfo="skip"))

# 0.1 % scale bar
bar_top = bar_base + bar_fraction * tsi_reference
cap = 0.14
fig.add_shape(type="line", x0=bar_year, x1=bar_year, y0=bar_base, y1=bar_top,
              line=dict(color="#555555", width=2))
for yy in (bar_base, bar_top):
    fig.add_shape(type="line", x0=bar_year - cap, x1=bar_year + cap, y0=yy, y1=yy,
                  line=dict(color="#555555", width=2))

# page geometry (pixels) for frame and text placement
W, H = 1319, 857
L, R, T, B = 167, 1284, 103, 750


def px(x):
    return (x - L) / (R - L)


def py(y):
    return (B - y) / (B - T)


# slide frame: navy edge strip and grey title band
fig.add_shape(type="rect", xref="paper", yref="paper", x0=px(-10), x1=px(12), y0=py(870), y1=py(-10),
              fillcolor="#0a0d4e", line=dict(width=0), layer="below")
fig.add_shape(type="rect", xref="paper", yref="paper", x0=px(12), x1=px(1330), y0=py(5), y1=py(-10),
              fillcolor="#02041f", line=dict(width=0), layer="below")
fig.add_shape(type="rect", xref="paper", yref="paper", x0=px(12), x1=px(1330), y0=py(15), y1=py(5),
              fillcolor="#6e8092", line=dict(width=0), layer="below")

FONT = "Liberation Sans, Arial, Helvetica, sans-serif"
FS = 35

fig.add_annotation(x=bar_year, xref="x", y=(bar_base + bar_top) / 2, yref="y", xshift=7,
                   text="0.1%", showarrow=False, xanchor="left", yanchor="middle",
                   font=dict(family=FONT, size=33, color=INK))
fig.add_annotation(x=px(728), y=py(823), xref="paper", yref="paper", text="Year", showarrow=False,
                   xanchor="center", yanchor="middle", font=dict(family=FONT, size=FS, color=INK))
fig.add_annotation(x=px(729), y=py(32), xref="paper", yref="paper",
                   text="Time (days since start 1 Jan. 1980)", showarrow=False,
                   xanchor="center", yanchor="middle", font=dict(family=FONT, size=FS, color=INK))
fig.add_annotation(x=px(27), y=py(436), xref="paper", yref="paper", textangle=-90,
                   text="Total solar irradiance (W m<sup>\u22122</sup>)", showarrow=False,
                   xanchor="center", yanchor="middle", font=dict(family=FONT, size=FS, color=INK))

RED_FONT = dict(family=FONT, size=60, color="#ff2d00")
fig.add_annotation(x=px(612), y=py(621), xref="paper", yref="paper", text="time variation of",
                   showarrow=False, xanchor="center", yanchor="middle", font=RED_FONT)
fig.add_annotation(x=px(616), y=py(682), xref="paper", yref="paper", text="solar luminosity",
                   showarrow=False, xanchor="center", yanchor="middle", font=RED_FONT)

fig.update_layout(
    width=W, height=H,
    margin=dict(l=L, r=W - R, t=T, b=H - B, pad=0),
    paper_bgcolor="white", plot_bgcolor="white",
    showlegend=False,
    xaxis=dict(
        range=[YEAR0, YEAR1], tickmode="array",
        tickvals=[y + 0.55 for y in year_ticks], ticktext=year_labels,
        ticks="", showline=True, linewidth=2, linecolor=AXIS, mirror=False,
        showgrid=False, zeroline=False, ticklabelstandoff=0,
        tickfont=dict(family=FONT, size=FS, color=INK),
        minor=dict(ticks="inside", ticklen=12, tickwidth=2, tickcolor=AXIS,
                   tickmode="linear", tick0=YEAR0, dtick=1, showgrid=False),
    ),
    xaxis2=dict(
        overlaying="x", side="top", anchor="y",
        range=[(YEAR0 - 1980) * DAY, (YEAR1 - 1980) * DAY],
        tickmode="array", tickvals=day_ticks, ticktext=day_labels,
        ticks="inside", ticklen=13, tickwidth=2, tickcolor=AXIS,
        showline=True, linewidth=2, linecolor=AXIS, showgrid=False, zeroline=False,
        ticklabelstandoff=0,
        tickfont=dict(family=FONT, size=FS, color=INK),
        minor=dict(ticks="inside", ticklen=6, tickwidth=2, tickcolor=AXIS,
                   tickmode="linear", tick0=0, dtick=500, showgrid=False),
    ),
    yaxis=dict(
        range=[TSI0, TSI1], tickmode="array", tickvals=tsi_ticks, ticktext=tsi_labels,
        ticks="inside", ticklen=22, tickwidth=2, tickcolor=AXIS,
        showline=True, linewidth=2, linecolor=AXIS, mirror="ticks",
        showgrid=False, zeroline=False, ticklabelstandoff=8,
        tickfont=dict(family=FONT, size=FS, color=INK),
        minor=dict(ticks="inside", ticklen=8, tickwidth=1.5, tickcolor=AXIS,
                   tickmode="linear", tick0=1362, dtick=0.1, showgrid=False),
    ),
)

fig.write_html("out.html")
